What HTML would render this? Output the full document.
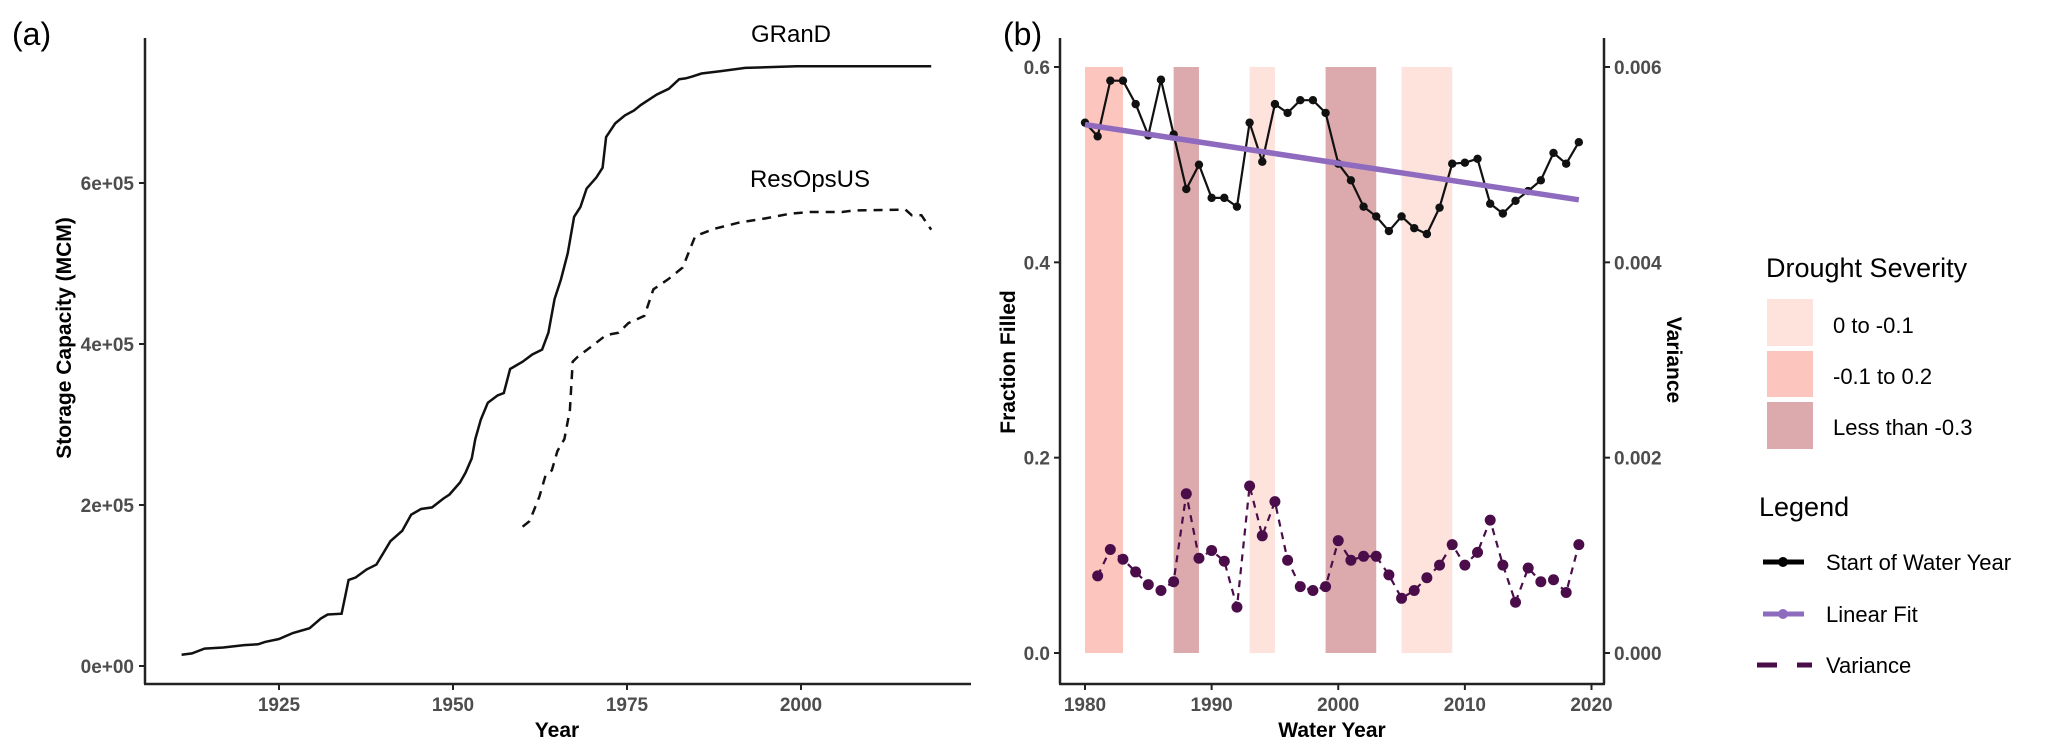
<!DOCTYPE html>
<html><head><meta charset="utf-8">
<style>
html,body{margin:0;padding:0;background:#fff;}
svg{display:block;font-family:"Liberation Sans",sans-serif;}
.tick{font-weight:bold;fill:#4d4d4d;font-size:19px;}
.title{font-weight:bold;fill:#000;font-size:21px;}
</style></head>
<body>
<svg id="chart" width="2067" height="756" viewBox="0 0 2067 756" xmlns="http://www.w3.org/2000/svg">
<text x="12" y="45" font-size="32">(a)</text>
<text x="1003" y="45" font-size="32">(b)</text>
<g id="pa"></g>
<g id="pb"></g>
<g id="legend">
  <text x="1766" y="277" font-size="27">Drought Severity</text>
  <rect x="1767" y="299" width="46" height="47" fill="#fde3dc"/>
  <rect x="1767" y="351" width="46" height="46" fill="#fcc5be"/>
  <rect x="1767" y="402" width="46" height="47" fill="#dcaaad"/>
  <text x="1833" y="333" font-size="22">0 to -0.1</text>
  <text x="1833" y="384" font-size="22">-0.1 to 0.2</text>
  <text x="1833" y="435" font-size="22">Less than -0.3</text>
  <text x="1759" y="516" font-size="27">Legend</text>
  <line x1="1763" y1="562" x2="1804" y2="562" stroke="#000" stroke-width="5"/>
  <circle cx="1783" cy="562" r="5" fill="#000"/>
  <line x1="1763" y1="614" x2="1804" y2="614" stroke="#8e6bbf" stroke-width="5"/>
  <circle cx="1783" cy="614" r="5" fill="#8e6bbf"/>
  <line x1="1757" y1="665" x2="1777" y2="665" stroke="#4a0d4a" stroke-width="5"/>
  <line x1="1797" y1="665" x2="1812" y2="665" stroke="#4a0d4a" stroke-width="5"/>
  <text x="1826" y="570" font-size="22">Start of Water Year</text>
  <text x="1826" y="622" font-size="22">Linear Fit</text>
  <text x="1826" y="673" font-size="22">Variance</text>
</g>
</svg>
<script>
// Panel (a) data
const grandYears = [1911,1912.5,1914.3,1917,1920,1922,1923,1925,1927,1929.4,1931,1932,1934,1935,1936,1937.6,1939,1941,1942.7,1944,1945.4,1947,1948.6,1949.5,1951,1951.8,1952.7,1953.2,1954,1955,1956.4,1957.3,1958.2,1960,1961.4,1962.8,1963.7,1964.6,1965.5,1966.5,1967.4,1968.3,1969.2,1970.6,1971.5,1972,1973.3,1974.7,1976,1977,1979.3,1981,1982.5,1983.4,1984.3,1985.7,1988.5,1992,1994.9,1999.4,2018.7];
const grandValues = [14000,15600,21600,23000,26000,27000,30000,33600,41000,47000,59000,64000,65000,107000,110000,120000,126000,155000,168000,188000,195000,197000,208000,213000,228000,240000,258000,282000,306000,327000,336000,339000,369000,378000,387000,393000,414000,456000,480000,513000,558000,570000,593000,607000,619000,657000,674000,684000,690000,697000,710000,717000,729000,730000,732000,736000,739000,743000,743700,745000,745000];
const resopsYears = [1960,1961,1962.4,1963.3,1964.2,1965,1966,1966.8,1967.2,1967.9,1970.2,1972,1973.8,1975.2,1977.5,1978.8,1981,1983,1984.8,1987.5,1991.2,1994.9,1998.5,2001.3,2005.9,2007.7,2015,2015.9,2017.3,2018.7];
const resopsValues = [173000,180000,210000,237000,243000,267000,282000,318000,378000,384000,399000,411000,414000,426000,435000,468000,481000,495000,534000,543000,551000,556000,562000,564000,564000,566000,567000,560000,560000,542000];
const aXTicks = [1925,1950,1975,2000];
const aYTicks = [0,200000,400000,600000];
const aYTickLabels = ["0e+00","2e+05","4e+05","6e+05"];

// Panel (b) data
const years = [1980,1981,1982,1983,1984,1985,1986,1987,1988,1989,1990,1991,1992,1993,1994,1995,1996,1997,1998,1999,2000,2001,2002,2003,2004,2005,2006,2007,2008,2009,2010,2011,2012,2013,2014,2015,2016,2017,2018,2019];
const fractionFilled = [0.543,0.529,0.586,0.586,0.562,0.530,0.587,0.531,0.475,0.500,0.466,0.466,0.457,0.543,0.503,0.562,0.553,0.566,0.566,0.553,0.501,0.484,0.457,0.447,0.432,0.447,0.435,0.429,0.456,0.501,0.502,0.506,0.460,0.450,0.463,0.473,0.484,0.512,0.501,0.523];
const varYears = [1981,1982,1983,1984,1985,1986,1987,1988,1989,1990,1991,1992,1993,1994,1995,1996,1997,1998,1999,2000,2001,2002,2003,2004,2005,2006,2007,2008,2009,2010,2011,2012,2013,2014,2015,2016,2017,2018,2019];
const varianceValues = [0.00079,0.00106,0.00096,0.00083,0.00070,0.00064,0.00073,0.00163,0.00097,0.00105,0.00094,0.00047,0.00171,0.00120,0.00155,0.00095,0.00068,0.00064,0.00068,0.00115,0.00095,0.00099,0.00099,0.00080,0.00056,0.00064,0.00077,0.00090,0.00111,0.00090,0.00103,0.00136,0.00090,0.00052,0.00087,0.00073,0.00075,0.00062,0.00111];
const fitStart = [1980,0.541];
const fitEnd = [2019,0.464];
const droughtStart = [1980,1987,1993,1999,2005];
const droughtEnd = [1983,1989,1995,2003,2009];
const droughtClass = ["medium","severe","light","severe","light"];
const bXTicks = [1980,1990,2000,2010,2020];
const bYTicks = [0,0.2,0.4,0.6];
const bYTickLabels = ["0.0","0.2","0.4","0.6"];
const bY2Ticks = [0,0.002,0.004,0.006];
const bY2TickLabels = ["0.000","0.002","0.004","0.006"];

const NS="http://www.w3.org/2000/svg";
function mk(parent,tag,attrs,text){const e=document.createElementNS(NS,tag);for(const k in attrs)e.setAttribute(k,attrs[k]);if(text!==undefined)e.textContent=text;parent.appendChild(e);return e;}

// ---- Panel a ----
const pa=document.getElementById('pa');
const ax=y=>279+(y-1925)*(801-279)/75;
const ay=v=>666-v*(666-183)/600000;
let el;
el=mk(pa,'line',{x1:145,y1:38,x2:145,y2:684,stroke:'#222','stroke-width':2.5});


el=mk(pa,'line',{x1:144,y1:684,x2:971,y2:684,stroke:'#222','stroke-width':2.5});


aXTicks.forEach(t=>{
  mk(pa,'line',{x1:ax(t),y1:684,x2:ax(t),y2:690,stroke:'#222','stroke-width':2});
  el=mk(pa,'text',{x:ax(t),y:711,'text-anchor':'middle',class:'tick'},String(t));
  
  
});
aYTicks.forEach((t,i)=>{
  mk(pa,'line',{x1:139,y1:ay(t),x2:145,y2:ay(t),stroke:'#222','stroke-width':2});
  el=mk(pa,'text',{x:134,y:ay(t)+7,'text-anchor':'end',class:'tick'},aYTickLabels[i]);
  
  
});
el=mk(pa,'text',{x:557,y:737,'text-anchor':'middle',class:'title'},'Year');


el=mk(pa,'text',{x:0,y:0,'text-anchor':'middle',class:'title',transform:'translate(71,338) rotate(-90)'},'Storage Capacity (MCM)');


el=mk(pa,'path',{d:grandYears.map((y,i)=>(i?'L':'M')+ax(y).toFixed(1)+','+ay(grandValues[i]).toFixed(1)).join(''),fill:'none',stroke:'#111','stroke-width':2.5});


el=mk(pa,'path',{d:resopsYears.map((y,i)=>(i?'L':'M')+ax(y).toFixed(1)+','+ay(resopsValues[i]).toFixed(1)).join(''),fill:'none',stroke:'#111','stroke-width':2.5,'stroke-dasharray':'9,7'});


el=mk(pa,'text',{x:791,y:42,'text-anchor':'middle','font-size':24},'GRanD');


el=mk(pa,'text',{x:810,y:187,'text-anchor':'middle','font-size':24},'ResOpsUS');



// ---- Panel b ----
const pb=document.getElementById('pb');
const bx=y=>1085+(y-1980)*(1591.5-1085)/40;
const by=v=>653-v*(653-67)/0.6;
const by2=v=>by(v*100);
const colors={light:'#fde3dc',medium:'#fcc5be',severe:'#dcaaad'};
droughtStart.forEach((s,i)=>{
  el=mk(pb,'rect',{x:bx(s),y:by(0.6),width:bx(droughtEnd[i])-bx(s),height:by(0)-by(0.6),fill:colors[droughtClass[i]]});
  
  
});
el=mk(pb,'line',{x1:1060,y1:38,x2:1060,y2:684,stroke:'#222','stroke-width':2.5});


el=mk(pb,'line',{x1:1604,y1:38,x2:1604,y2:684,stroke:'#222','stroke-width':2.5});


el=mk(pb,'line',{x1:1059,y1:684,x2:1605,y2:684,stroke:'#222','stroke-width':2.5});


bXTicks.forEach(t=>{
  mk(pb,'line',{x1:bx(t),y1:684,x2:bx(t),y2:690,stroke:'#222','stroke-width':2});
  el=mk(pb,'text',{x:bx(t),y:711,'text-anchor':'middle',class:'tick'},String(t));
  
  
});
bYTicks.forEach((t,i)=>{
  mk(pb,'line',{x1:1054,y1:by(t),x2:1060,y2:by(t),stroke:'#222','stroke-width':2});
  el=mk(pb,'text',{x:1050,y:by(t)+7,'text-anchor':'end',class:'tick'},bYTickLabels[i]);
  
  
});
bY2Ticks.forEach((t,i)=>{
  mk(pb,'line',{x1:1604,y1:by2(t),x2:1610,y2:by2(t),stroke:'#222','stroke-width':2});
  el=mk(pb,'text',{x:1614,y:by2(t)+7,'text-anchor':'start',class:'tick'},bY2TickLabels[i]);
  
  
});
el=mk(pb,'text',{x:1332,y:737,'text-anchor':'middle',class:'title'},'Water Year');


el=mk(pb,'text',{x:0,y:0,'text-anchor':'middle',class:'title',transform:'translate(1015,362) rotate(-90)'},'Fraction Filled');


el=mk(pb,'text',{x:0,y:0,'text-anchor':'middle',class:'title',transform:'translate(1667,360) rotate(90)'},'Variance');


// variance
el=mk(pb,'path',{d:varYears.map((y,i)=>(i?'L':'M')+bx(y).toFixed(1)+','+by2(varianceValues[i]).toFixed(1)).join(''),fill:'none',stroke:'#4a0d4a','stroke-width':2.2,'stroke-dasharray':'7,6'});


varYears.forEach((y,i)=>{
  el=mk(pb,'circle',{cx:bx(y),cy:by2(varianceValues[i]),r:5.5,fill:'#4a0d4a'});
  
  
});
// fraction filled
el=mk(pb,'path',{d:years.map((y,i)=>(i?'L':'M')+bx(y).toFixed(1)+','+by(fractionFilled[i]).toFixed(1)).join(''),fill:'none',stroke:'#111','stroke-width':2.2});


years.forEach((y,i)=>{
  el=mk(pb,'circle',{cx:bx(y),cy:by(fractionFilled[i]),r:4.2,fill:'#111'});
  
  
});
// linear fit
el=mk(pb,'line',{x1:bx(fitStart[0]),y1:by(fitStart[1]),x2:bx(fitEnd[0]),y2:by(fitEnd[1]),stroke:'#8e6bbf','stroke-width':5.5});


</script>
</body></html>
